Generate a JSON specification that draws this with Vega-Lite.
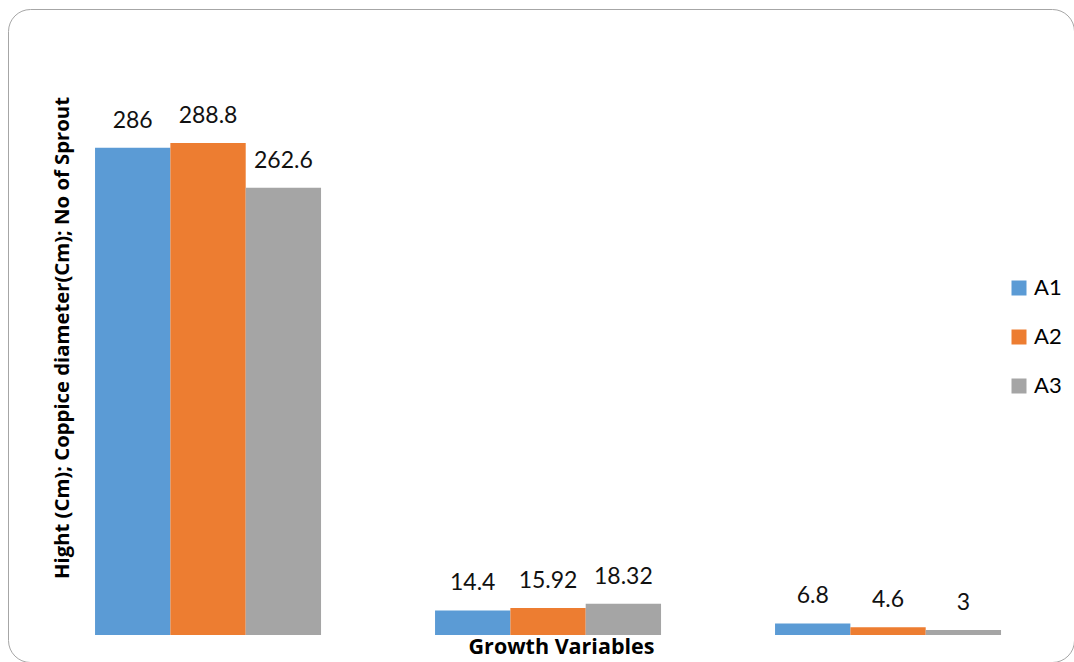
{
  "$schema": "https://vega.github.io/schema/vega-lite/v6.json",
  "width": 1066,
  "height": 653,
  "autosize": {"type": "none"},
  "padding": {"left": 8, "top": 9, "right": 0, "bottom": 0},
  "background": "white",
  "data": {
    "values": [
      {"variable": "Hight", "series": "A1", "value": 286},
      {"variable": "Hight", "series": "A2", "value": 288.8},
      {"variable": "Hight", "series": "A3", "value": 262.6},
      {"variable": "Coppice diameter", "series": "A1", "value": 14.4},
      {"variable": "Coppice diameter", "series": "A2", "value": 15.92},
      {"variable": "Coppice diameter", "series": "A3", "value": 18.32},
      {"variable": "No of Sprout", "series": "A1", "value": 6.8},
      {"variable": "No of Sprout", "series": "A2", "value": 4.6},
      {"variable": "No of Sprout", "series": "A3", "value": 3}
    ]
  },
  "encoding": {
    "x": {
      "field": "variable",
      "type": "nominal",
      "sort": null,
      "scale": {"paddingInner": 0.3353, "paddingOuter": 0.2353, "align": 0.544},
      "axis": {
        "labels": false,
        "ticks": false,
        "domain": false,
        "grid": false,
        "title": "Growth Variables",
        "titleFont": "Open Sans",
        "titleFontSize": 21.5,
        "titleFontWeight": "bold",
        "titleColor": "#000000",
        "titleX": 553,
        "titleY": -9,
        "titleAlign": "center",
        "titleBaseline": "alphabetic"
      }
    },
    "xOffset": {
      "field": "series",
      "type": "nominal",
      "sort": ["A1", "A2", "A3"],
      "scale": {"paddingInner": 0, "paddingOuter": 0}
    },
    "y": {
      "field": "value",
      "type": "quantitative",
      "scale": {"domain": [-15.85, 367.5], "zero": false, "nice": false},
      "axis": {
        "labels": false,
        "ticks": false,
        "domain": false,
        "grid": false,
        "title": "Hight (Cm); Coppice diameter(Cm); No of Sprout",
        "titleFont": "Open Sans",
        "titleFontSize": 20.3,
        "titleFontWeight": "bold",
        "titleColor": "#000000",
        "titleX": 54,
        "titleY": 328.5,
        "titleAngle": 270,
        "titleAlign": "center",
        "titleBaseline": "middle"
      }
    }
  },
  "layer": [
    {
      "mark": {"type": "bar"},
      "encoding": {
        "y2": {"datum": 0},
        "color": {
          "field": "series",
          "type": "nominal",
          "sort": ["A1", "A2", "A3"],
          "scale": {"domain": ["A1", "A2", "A3"], "range": ["#5B9BD5", "#ED7D31", "#A5A5A5"]},
          "legend": {
            "title": null,
            "orient": "none",
            "legendX": 1000,
            "legendY": 268,
            "padding": 0,
            "symbolType": "square",
            "symbolSize": 225,
            "symbolStrokeWidth": 0,
            "labelFont": "Lato",
            "labelFontSize": 22,
            "labelColor": "#000000",
            "labelOffset": 4,
            "rowPadding": 27
          }
        }
      }
    },
    {
      "mark": {"type": "text", "baseline": "alphabetic", "dy": -20, "font": "Lato", "fontSize": 23, "color": "#111111"},
      "encoding": {
        "text": {"field": "value", "type": "nominal"}
      }
    }
  ],
  "config": {
    "view": {"stroke": "#a6a6a6", "strokeWidth": 1, "cornerRadius": 22}
  }
}
